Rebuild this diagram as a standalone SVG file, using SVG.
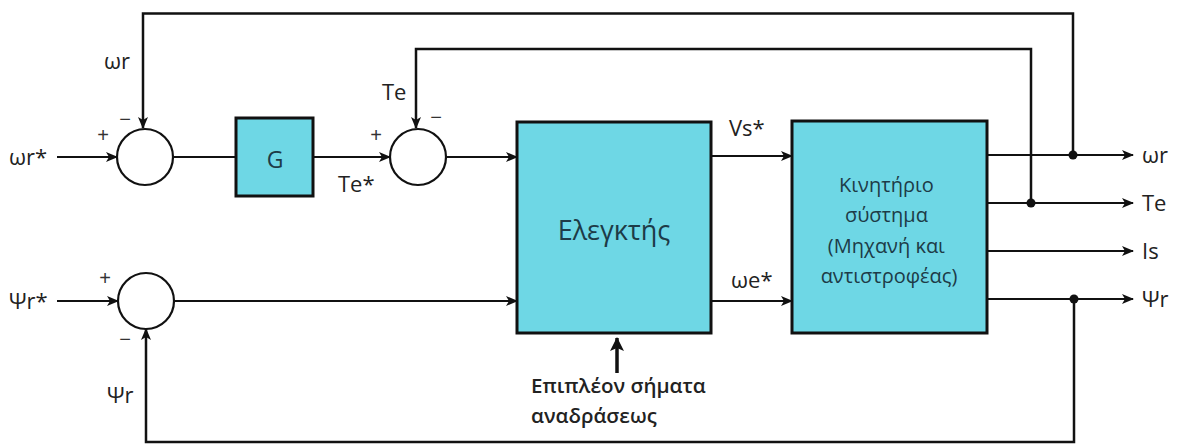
<svg xmlns="http://www.w3.org/2000/svg" width="1180" height="445" viewBox="0 0 1180 445">
<defs>
<marker id="ah" markerWidth="12" markerHeight="10" refX="11" refY="5" orient="auto" markerUnits="userSpaceOnUse">
<path d="M0,0 L12,5 L0,10 L3,5 Z" fill="#111"/>
</marker>
<marker id="ahb" markerWidth="14" markerHeight="14" refX="13" refY="7" orient="auto" markerUnits="userSpaceOnUse">
<path d="M0,0 L14,7 L0,14 L3,7 Z" fill="#111"/>
</marker>
</defs>
<style>
.ln{fill:none;stroke:#111;stroke-width:2}
.fb{fill:none;stroke:#111;stroke-width:2.5}
.sum{fill:#fff;stroke:#111;stroke-width:2.2}
.box{fill:#6ED7E5;stroke:#111;stroke-width:3}
.lbl{font-family:"Open Sans","Noto Sans","DejaVu Sans",sans-serif;font-size:22px;fill:#222}
.sg{font-family:"Liberation Sans",sans-serif;font-size:20px;fill:#333}
.bt{font-family:"Open Sans","Noto Sans","DejaVu Sans",sans-serif;fill:#1d3b47}
.ft{font-family:"Open Sans","Noto Sans","DejaVu Sans",sans-serif;font-size:20.5px;font-weight:600;fill:#222}
.dot{fill:#111}
</style>
<g id="connectors">
<path class="fb" d="M1073,155 V13.5 H143 V128" marker-end="url(#ah)"/>
<path class="fb" d="M1031,203 V49 H416 V128" marker-end="url(#ah)"/>
<path class="fb" d="M1074,299 V442 H146 V329" marker-end="url(#ah)"/>
<line class="ln" x1="57" y1="157" x2="117" y2="157" marker-end="url(#ah)"/>
<line class="ln" x1="173" y1="157" x2="236" y2="157"/>
<line class="ln" x1="313" y1="157" x2="390" y2="157" marker-end="url(#ah)"/>
<line class="ln" x1="446" y1="157" x2="517" y2="157" marker-end="url(#ah)"/>
<line class="ln" x1="711" y1="156" x2="792" y2="156" marker-end="url(#ah)"/>
<line class="ln" x1="57" y1="301" x2="118" y2="301" marker-end="url(#ah)"/>
<line class="ln" x1="174" y1="301" x2="517" y2="301" marker-end="url(#ah)"/>
<line class="ln" x1="711" y1="301" x2="792" y2="301" marker-end="url(#ah)"/>
<line class="ln" x1="987" y1="155" x2="1133" y2="155" marker-end="url(#ah)"/>
<line class="ln" x1="987" y1="203" x2="1133" y2="203" marker-end="url(#ah)"/>
<line class="ln" x1="987" y1="251" x2="1133" y2="251" marker-end="url(#ah)"/>
<line class="ln" x1="987" y1="299" x2="1133" y2="299" marker-end="url(#ah)"/>
<line x1="617" y1="373" x2="617" y2="338" stroke="#111" stroke-width="3.5" marker-end="url(#ahb)"/>
<circle class="dot" cx="1073" cy="155" r="4.5"/>
<circle class="dot" cx="1031" cy="203" r="4.5"/>
<circle class="dot" cx="1074" cy="299" r="4.5"/>
</g>
<g id="sum1">
<circle class="sum" cx="145" cy="157" r="28"/>
<text class="sg" x="103" y="142" text-anchor="middle">+</text>
<text class="sg" x="125" y="126" text-anchor="middle">−</text>
</g>
<g id="G">
<rect class="box" x="236" y="118" width="77" height="78"/>
<text class="bt" x="275" y="168" font-size="23" text-anchor="middle">G</text>
</g>
<g id="sum2">
<circle class="sum" cx="418" cy="157" r="28" stroke="#555" stroke-width="1.6"/>
<text class="sg" x="376" y="142" text-anchor="middle">+</text>
<text class="sg" x="436" y="124" text-anchor="middle">−</text>
</g>
<g id="sum3">
<circle class="sum" cx="146" cy="301" r="28"/>
<text class="sg" x="105" y="285" text-anchor="middle">+</text>
<text class="sg" x="125" y="346" text-anchor="middle">−</text>
</g>
<g id="controller">
<rect class="box" x="517" y="122" width="194" height="211"/>
<text class="bt" x="614" y="240" font-size="27" text-anchor="middle">Ελεγκτής</text>
</g>
<g id="plant">
<rect class="box" x="792" y="121" width="195" height="212"/>
<text class="bt" font-size="20" text-anchor="middle">
<tspan x="889" y="192">Κινητήριο</tspan>
<tspan x="889" y="222">σύστημα</tspan>
<tspan x="889" y="253">(Μηχανή και</tspan>
<tspan x="889" y="283">αντιστροφέας)</tspan>
</text>
</g>
<g id="labels">
<text class="lbl" x="9" y="165">ωr*</text>
<text class="lbl" x="104" y="69">ωr</text>
<text class="lbl" x="338" y="192">Te*</text>
<text class="lbl" x="382" y="100">Te</text>
<text class="lbl" x="729" y="136">Vs*</text>
<text class="lbl" x="731" y="288">ωe*</text>
<text class="lbl" x="1142" y="163">ωr</text>
<text class="lbl" x="1142" y="211">Te</text>
<text class="lbl" x="1142" y="259">Is</text>
<text class="lbl" x="1142" y="307">Ψr</text>
<text class="lbl" x="9" y="309">Ψr*</text>
<text class="lbl" x="107" y="403">Ψr</text>
<text class="ft" x="531" y="393">Επιπλέον σήματα</text>
<text class="ft" x="531" y="423">αναδράσεως</text>
</g>
</svg>
